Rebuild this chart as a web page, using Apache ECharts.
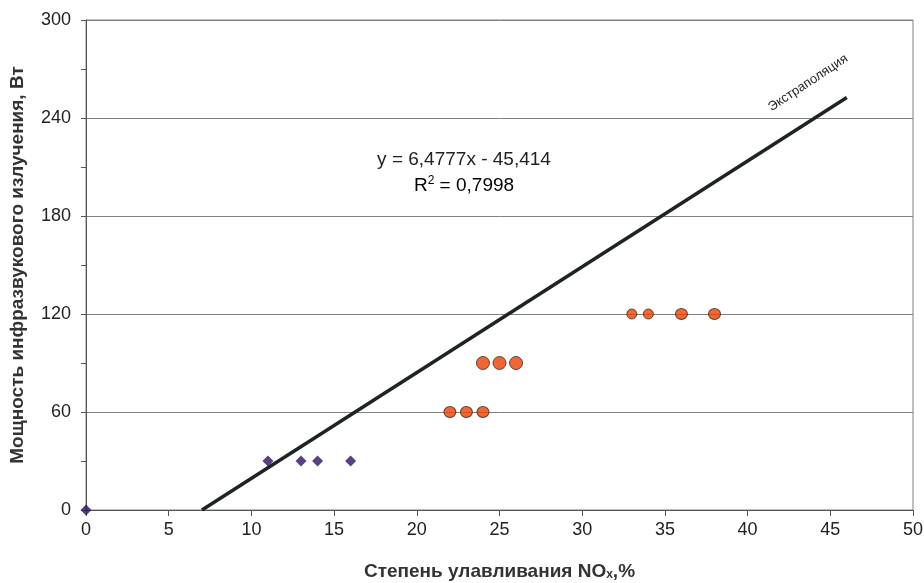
<!DOCTYPE html>
<html>
<head>
<meta charset="utf-8">
<script src="https://cdn.jsdelivr.net/npm/echarts@6/dist/echarts.min.js"></script>
<style>
html,body{margin:0;padding:0;background:#fff;}
#chart{width:924px;height:583px;}
</style>
</head>
<body>
<div id="chart"></div>
<script>
// замеры (синие ромбы)
var diamondX=[0,11,13,14,16];
var diamondY=[0,30,30,30,30];
// замеры (красные точки)
var dotX=[22,23,24,24,25,26,33,34,36,38];
var dotY=[60,60,60,90,90,90,120,120,120,120];
var dotW=[12,12,12,13,13,13,10,10,12,12];
var dotH=[11,11,11,13,13,13,10,10,11,11];
// линейный тренд
var slope=6.4777, intercept=-45.414;
var trendRange=[-intercept/slope,46];
var yTicks=[0,60,120,180,240,300];

var chart=echarts.init(document.getElementById('chart'));
var font='Liberation Sans, Arial, sans-serif';

var diamondData=diamondX.map(function(x,i){return [x,diamondY[i]];});
var dotData=dotX.map(function(x,i){return {value:[x,dotY[i]],symbolSize:[dotW[i],dotH[i]]};});
var trendData=trendRange.map(function(x){return [x,slope*x+intercept];});

var option={
	backgroundColor:'#fff',
	animation:false,
	grid:{left:86,right:11,top:20,bottom:73,show:true,borderColor:'#808080',borderWidth:1,outerBoundsMode:'none',containLabel:false},
	xAxis:{
		type:'value',min:0,max:50,interval:5,
		axisLine:{show:true,lineStyle:{color:'#555',width:1}},
		axisTick:{show:true,length:6,lineStyle:{color:'#555'}},
		axisLabel:{color:'#222',fontSize:18,fontFamily:font,margin:11},
		splitLine:{show:false},
		name:'{a|Степень улавливания NO}{s|x}{a|,%}',
		nameLocation:'middle',nameGap:52,
		nameTextStyle:{rich:{
			a:{fontSize:19,fontWeight:'bold',fontFamily:font,color:'#333'},
			s:{fontSize:12,fontWeight:'bold',fontFamily:font,color:'#333',verticalAlign:'bottom',padding:[6,0,0,0]}
		}}
	},
	yAxis:{
		type:'value',min:0,max:300,interval:60,
		axisLine:{show:true,lineStyle:{color:'#555',width:1}},
		axisTick:{show:true,length:5,lineStyle:{color:'#555'}},
		minorTick:{show:true,splitNumber:2,length:5,lineStyle:{color:'#555'}},
		axisLabel:{color:'#222',fontSize:18,fontFamily:font,margin:15,
			formatter:function(v){return yTicks.indexOf(v)>=0?String(v):'';}},
		splitLine:{show:true,lineStyle:{color:'#808080',width:1}},
		name:'Мощность инфразвукового излучения, Вт',
		nameLocation:'middle',nameGap:59,
		nameTextStyle:{fontSize:19,fontWeight:'bold',fontFamily:font,color:'#333'}
	},
	series:[
		{
			type:'line',data:trendData,showSymbol:false,symbol:'none',
			lineStyle:{color:'#1e2424',width:3.5},z:3
		},
		{
			type:'scatter',data:diamondData,symbol:'diamond',symbolSize:11,
			itemStyle:{color:'#2e1065'},z:4
		},
		{
			type:'scatter',data:dotData,symbol:'circle',
			itemStyle:{color:'#ee4000',borderColor:'#3a2a20',borderWidth:1},z:4
		}
	],
	graphic:[
		{type:'text',x:464,y:160,style:{text:'y = 6,4777x - 45,414',fontSize:19,fontFamily:font,fill:'#222',align:'center',verticalAlign:'middle'}},
		{type:'text',x:464,y:186,style:{
			text:'{a|R}{s|2}{a| = 0,7998}',align:'center',verticalAlign:'middle',
			rich:{a:{fontSize:19,fontFamily:font,color:'#222'},s:{fontSize:12,fontFamily:font,color:'#222',verticalAlign:'top',padding:[0,0,10,0]}}
		}},
		{type:'text',x:808,y:83,rotation:33.5*Math.PI/180,style:{text:'Экстраполяция',fontSize:13,fontFamily:'Liberation Sans Narrow, Liberation Sans, Arial, sans-serif',fill:'#222',align:'center',verticalAlign:'middle'}}
	]
};
chart.setOption(option);
</script>
</body>
</html>
